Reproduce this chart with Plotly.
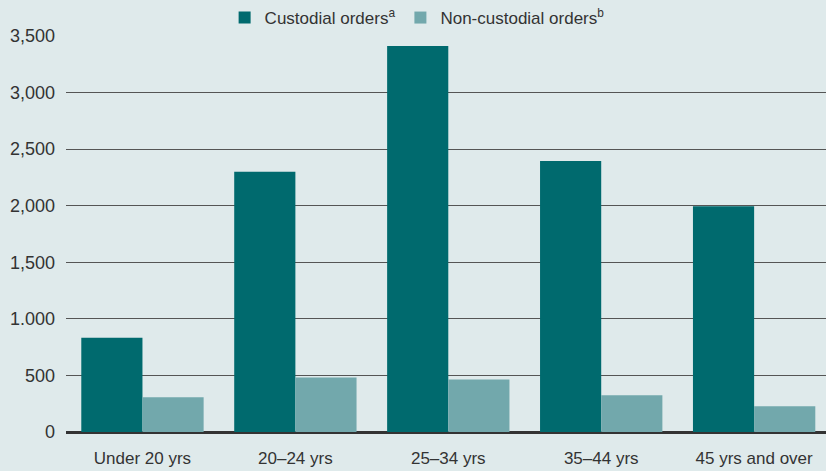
import plotly.graph_objects as go

categories = ["Under 20 yrs", "20–24 yrs", "25–34 yrs", "35–44 yrs", "45 yrs and over"]
custodial = [833, 2300, 3412, 2395, 1995]
non_custodial = [307, 482, 465, 325, 228]
tick_vals = [0, 500, 1000, 1500, 2000, 2500, 3000, 3500]
tick_text = ["0", "500", "1.000", "1,500", "2,000", "2,500", "3,000", "3,500"]

FONT = "Liberation Sans, Arial, sans-serif"

fig = go.Figure()
fig.add_trace(go.Bar(x=categories, y=custodial, name="Custodial orders<sup>a</sup>",
                     marker=dict(color="#006a6e", line=dict(width=0))))
fig.add_trace(go.Bar(x=categories, y=non_custodial, name="Non-custodial orders<sup>b</sup>",
                     marker=dict(color="#72a8ac", line=dict(width=0))))

fig.update_layout(
    width=826, height=471,
    margin=dict(l=66, r=0, t=33, b=39),
    paper_bgcolor="#dfeaeb", plot_bgcolor="#dfeaeb",
    barmode="group", bargap=0.2, bargroupgap=0,
    font=dict(family=FONT, size=17, color="#333333"),
    legend=dict(orientation="h", x=0.462, xanchor="center", y=1.0, yanchor="bottom",
                font=dict(size=17, color="#333333"), bgcolor="rgba(0,0,0,0)",
                itemwidth=30, traceorder="normal"),
    showlegend=True,
)
fig.update_xaxes(range=[-0.5, 4.47], showgrid=False, ticks="", tickfont=dict(size=17),
                 showline=False, zeroline=False, ticklabelstandoff=14)
fig.update_yaxes(range=[0, 3500], tickvals=tick_vals, ticktext=tick_text,
                 showgrid=True, gridcolor="#555555", gridwidth=1,
                 zeroline=True, zerolinecolor="#333333", zerolinewidth=2.5,
                 ticks="", tickfont=dict(size=18), ticklabelstandoff=10, showline=False)

fig.write_html("out.html", config={"displayModeBar": False},
               post_script="document.body.style.margin='0';document.body.style.overflow='hidden';")
